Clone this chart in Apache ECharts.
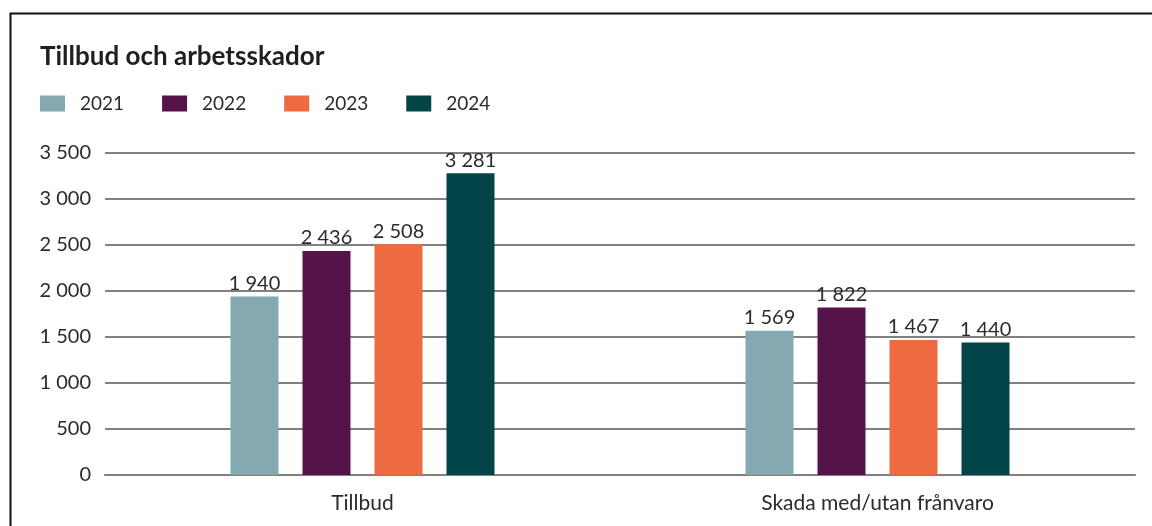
<!DOCTYPE html>
<html>
<head>
<meta charset="utf-8">
<script src="https://cdn.jsdelivr.net/npm/echarts@6/dist/echarts.min.js"></script>
<style>
  html, body { margin: 0; padding: 0; background: #fff; }
  #chart { width: 1152px; height: 526px; }
</style>
</head>
<body>
<div id="chart"></div>
<script>
// data
var categories = ['Tillbud', 'Skada med/utan frånvaro'];
var years = ['2021', '2022', '2023', '2024'];
var v2021 = [1940, 1569];
var v2022 = [2436, 1822];
var v2023 = [2508, 1467];
var v2024 = [3281, 1440];
var yTicks = [0, 500, 1000, 1500, 2000, 2500, 3000, 3500];

var colors = ['#84A9B0', '#561349', '#EE6A40', '#024447'];
var font = 'Lato, "Open Sans", sans-serif';

// "3500" -> "3 500"
function fmt(v) {
    return String(v).replace(/\B(?=(\d{3})+(?!\d))/g, ' ');
}

function makeSeries(name, data) {
    return {
        name: name,
        type: 'bar',
        data: data,
        barWidth: 48,
        barGap: '50%',
        label: {
            show: true,
            position: 'top',
            distance: 3,
            color: '#2b2b2b',
            fontFamily: font,
            fontSize: 20,
            formatter: function (p) { return fmt(p.value); }
        }
    };
}

var myChart = echarts.init(document.getElementById('chart'));
var option = {
    backgroundColor: '#fff',
    color: colors,
    animation: false,
    title: {
        text: 'Tillbud och arbetsskador',
        left: 35,
        top: 39,
        textStyle: { fontFamily: font, fontWeight: 'bold', fontSize: 26, color: '#1f1f1f' }
    },
    legend: {
        left: 40,
        top: 94,
        padding: 0,
        itemWidth: 25,
        itemHeight: 16,
        itemGap: 38,
        icon: 'rect',
        textStyle: { fontFamily: font, fontSize: 19, color: '#2b2b2b', padding: [0, 0, 0, 10] },
        data: years
    },
    grid: { left: 105, right: 17, top: 153, bottom: 51, containLabel: false },
    xAxis: {
        type: 'category',
        data: categories,
        axisLine: { show: true, lineStyle: { color: '#808080', width: 2 } },
        axisTick: { show: false },
        axisLabel: { margin: 18, color: '#2b2b2b', fontFamily: font, fontSize: 21 }
    },
    yAxis: {
        type: 'value',
        min: yTicks[0],
        max: yTicks[yTicks.length - 1],
        interval: 500,
        axisLine: { show: false },
        axisTick: { show: false },
        splitLine: { lineStyle: { color: '#808080', width: 2 } },
        axisLabel: {
            margin: 14,
            color: '#2b2b2b',
            fontFamily: font,
            fontSize: 20,
            formatter: function (v) { return fmt(v); }
        }
    },
    series: [
        makeSeries(years[0], v2021),
        makeSeries(years[1], v2022),
        makeSeries(years[2], v2023),
        makeSeries(years[3], v2024)
    ],
    graphic: [{
        // frame round the figure, open on the right and bottom
        type: 'rect',
        left: 8,
        top: 11,
        shape: { width: 1200, height: 600 },
        style: { fill: 'none', stroke: '#111', lineWidth: 2 },
        silent: true
    }]
};
myChart.setOption(option);
</script>
</body>
</html>
